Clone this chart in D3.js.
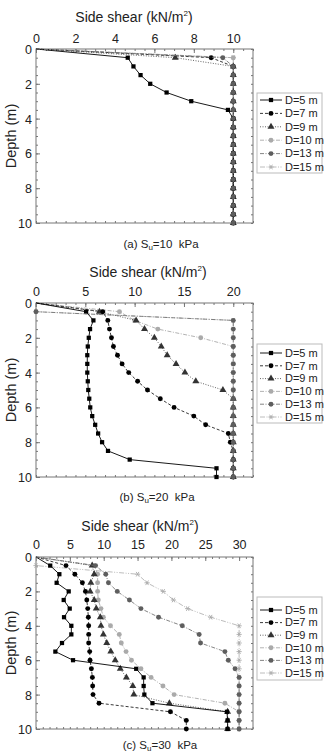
<!DOCTYPE html>
<html>
<head>
<meta charset="utf-8">
<script src="https://cdn.jsdelivr.net/npm/d3@7"></script>
<style>
body { margin: 0; background: #fff; }
svg text { font-family: Arial, "Liberation Sans", sans-serif; fill: #222; }
</style>
</head>
<body>
<div id="chart-area"></div>
<script>
/*
*    side shear vs depth, three panels
*/

var depths = [0, 0.5, 1, 1.5, 2, 2.5, 3, 3.5, 4, 4.5, 5, 5.5, 6, 6.5, 7, 7.5, 8, 8.5, 9, 9.5, 10];
var seriesNames = ["D=5 m", "D=7 m", "D=9 m", "D=10 m", "D=13 m", "D=15 m"];
var captions = ["(a)", "(b)", "(c)"];
var suValues = ["=10  kPa", "=20  kPa", "=30  kPa"];

var xTicksA = [0, 2, 4, 6, 8, 10];
var xTicksB = [0, 5, 10, 15, 20];
var xTicksC = [0, 5, 10, 15, 20, 25, 30];
var yTicks = [0, 2, 4, 6, 8, 10];

// Su = 10 kPa
var a_D5  = [0, 4.65, 4.94, 5.30, 5.79, 6.62, 7.87, 9.73, 10, 10, 10, 10, 10, 10, 10, 10, 10, 10, 10, 10, 10];
var a_D7  = [0, 8.88, 10, 10, 10, 10, 10, 10, 10, 10, 10, 10, 10, 10, 10, 10, 10, 10, 10, 10, 10];
var a_D9  = [0, 7.06, 10, 10, 10, 10, 10, 10, 10, 10, 10, 10, 10, 10, 10, 10, 10, 10, 10, 10, 10];
var a_D10 = [0, 10, 10, 10, 10, 10, 10, 10, 10, 10, 10, 10, 10, 10, 10, 10, 10, 10, 10, 10, 10];
var a_D13 = [0, 9.47, 10, 10, 10, 10, 10, 10, 10, 10, 10, 10, 10, 10, 10, 10, 10, 10, 10, 10, 10];
var a_D15 = [0, 10, 10, 10, 10, 10, 10, 10, 10, 10, 10, 10, 10, 10, 10, 10, 10, 10, 10, 10, 10];

// Su = 20 kPa
var b_D5  = [0, 5.08, 5.82, 5.48, 5.35, 5.25, 5.2, 5.2, 5.2, 5.25, 5.3, 5.4, 5.5, 5.7, 6.0, 6.3, 6.7, 7.3, 9.5, 18.3, 18.3];
var b_D7  = [0, 6.77, 7.28, 7.45, 7.65, 7.85, 8.26, 8.73, 9.4, 10.3, 11.3, 12.6, 14.0, 16.0, 17.2, 19.5, 19.7, 20, 20, 20, 20];
var b_D9  = [0, 6.43, 10.15, 11.0, 12.0, 12.7, 13.3, 14.2, 15.1, 16.2, 18.95, 20, 20, 20, 20, 20, 20, 20, 20, 20, 20];
var b_D10 = [0, 8.46, 10.0, 12.35, 16.7, 20, 20, 20, 20, 20, 20, 20, 20, 20, 20, 20, 20, 20, 20, 20, 20];
var b_D13 = [0, 0, 20, 20, 20, 20, 20, 20, 20, 20, 20, 20, 20, 20, 20, 20, 20, 20, 20, 20, 20];
var b_D15 = [0, 0, 20, 20, 20, 20, 20, 20, 20, 20, 20, 20, 20, 20, 20, 20, 20, 20, 20, 20, 20];

// Su = 30 kPa
var c_D5  = [0, 2.1, 3.45, 3.05, 4.83, 4.09, 4.98, 4.14, 5.22, 5.22, 3.84, 2.86, 5.47, 14.8, 15.9, 15.9, 16.0, 17.2, 28.2, 28.3, 28.3];
var c_D7  = [0, 4.43, 5.74, 6.85, 7.3, 7.5, 7.64, 7.73, 7.78, 7.78, 7.78, 7.93, 7.98, 8.18, 8.33, 8.37, 8.42, 9.31, 19.85, 22.2, 22.2];
var c_D9  = [0, 8.3, 8.6, 8.1, 8.0, 8.6, 8.9, 9.5, 9.6, 9.95, 10.45, 11.05, 11.7, 12.45, 13.35, 14.3, 14.45, 19.7, 28.3, 28.3, 28.3];
var c_D10 = [0, 8.6, 9.1, 9.1, 9.1, 9.2, 9.6, 9.95, 11.0, 12.3, 12.6, 13.3, 14.1, 15.5, 17.0, 18.75, 20.4, 27.9, 30, 30, 30];
var c_D13 = [0, 8.8, 10.3, 10.7, 12.0, 13.8, 15.5, 18.1, 21.6, 24.1, 24.3, 27.9, 28.4, 29.4, 30, 30, 30, 30, 30, 30, 30];
var c_D15 = [0, 0, 15.0, 16.4, 18.8, 20.3, 22.4, 25.8, 30, 30, 30, 30, 30, 30, 30, 30, 30, 30, 30, 30, 30];

var styles = [
	{color: "#000", line: "#000", dash: null, marker: "square"},
	{color: "#000", line: "#222", dash: "3,2", marker: "circle"},
	{color: "#333", line: "#555", dash: "1,1.5", marker: "triangle"},
	{color: "#aaa", line: "#aaa", dash: "4,1.5,1,1.5", marker: "circle"},
	{color: "#5e5e5e", line: "#777", dash: "4,1.5,1,1.5", marker: "circle"},
	{color: "#aaa", line: "#b4b4b4", dash: "5,1.5,1,1.5,1,1.5", marker: "asterisk"}
];

// D=13 ends up on top of the shared column of points
var drawOrder = [5, 3, 2, 1, 0, 4];

var panels = [
	{top: 49, bottom: 223, xmax: 11, ticks: xTicksA, minor: 0.5, data: [a_D5, a_D7, a_D9, a_D10, a_D13, a_D15],
	 titleX: 134, titleY: 22, tickY: 43, capX: 161, capY: 248, leg: {top: 93, bottom: 173, first: 100, step: 13.4}},
	{top: 303, bottom: 477, xmax: 22, ticks: xTicksB, minor: 1, data: [b_D5, b_D7, b_D9, b_D10, b_D13, b_D15],
	 titleX: 148, titleY: 277, tickY: 296, capX: 157, capY: 501, leg: {top: 344, bottom: 423, first: 353, step: 12.8}},
	{top: 557, bottom: 729, xmax: 32.05, ticks: xTicksC, minor: 1, data: [c_D5, c_D7, c_D9, c_D10, c_D13, c_D15],
	 titleX: 140, titleY: 531, tickY: 549, capX: 160, capY: 749, leg: {top: 597, bottom: 680, first: 610, step: 12.6}}
];

var left = 36, right = 253;

var svg = d3.select("#chart-area").append("svg").attr("width", 332).attr("height", 753);

function markerPath(type) {
	if (type == "square") return d3.symbol(d3.symbolSquare).size(18)();
	if (type == "triangle") return d3.symbol(d3.symbolTriangle).size(21)();
	if (type == "asterisk") return "M-2.6,0H2.6M-1.4,-2.3L1.4,2.3M-1.4,2.3L1.4,-2.3";
	return d3.symbol(d3.symbolCircle).size(19)();
}

function drawMarker(g, st, tx, ty) {
	var m = g.append("path").attr("d", markerPath(st.marker)).attr("transform", "translate(" + tx + "," + ty + ")");
	if (st.marker == "asterisk") {
		m.attr("fill", "none").attr("stroke", st.color).attr("stroke-width", 0.9);
	} else {
		m.attr("fill", st.color);
	}
}

panels.forEach((p, pi) => {
	var w = right - left, h = p.bottom - p.top;
	var x = d3.scaleLinear().domain([0, p.xmax]).range([0, w]);
	var y = d3.scaleLinear().domain([0, 10]).range([0, h]);
	var g = svg.append("g").attr("transform", "translate(" + left + "," + p.top + ")");

	var minorX = d3.range(0, p.xmax + 0.001, p.minor);
	var minorY = d3.range(0, 10.001, 0.5);

	// axes: majors with labels on top/left, minor ticks on all four sides pointing in
	var topAxis = g.append("g").call(d3.axisTop(x).tickValues(p.ticks).tickSize(-4).tickFormat(d3.format("d")));
	g.append("g").call(d3.axisTop(x).tickValues(minorX).tickSize(-2).tickFormat(""));
	g.append("g").attr("transform", "translate(0," + h + ")").call(d3.axisBottom(x).tickValues(minorX).tickSize(-2).tickFormat(""));
	var leftAxis = g.append("g").call(d3.axisLeft(y).tickValues(yTicks).tickSize(-4));
	g.append("g").call(d3.axisLeft(y).tickValues(minorY).tickSize(-2).tickFormat(""));
	g.append("g").attr("transform", "translate(" + w + ",0)").call(d3.axisRight(y).tickValues(minorY).tickSize(-2).tickFormat(""));

	g.selectAll(".domain").remove();
	g.selectAll(".tick line").attr("stroke", "#777");
	topAxis.selectAll("text").attr("font-size", "12.5px").attr("fill", "#222").attr("y", p.tickY - p.top).attr("dy", 0);
	leftAxis.selectAll("text").attr("font-size", "12.5px").attr("fill", "#222").attr("dy", "0.36em").attr("x", -4);

	g.append("rect").attr("width", w).attr("height", h).attr("fill", "none").attr("stroke", "#777").attr("stroke-width", 1);

	var line = d3.line().x((d) => { return x(d[1]); }).y((d) => { return y(d[0]); });

	drawOrder.forEach((s) => {
		var st = styles[s];
		var pts = depths.map((dd, i) => { return [dd, p.data[s][i]]; });
		g.append("path").datum(pts).attr("d", line).attr("fill", "none")
			.attr("stroke", st.line).attr("stroke-width", 0.9).attr("stroke-dasharray", st.dash);
		pts.forEach((d, i) => {
			if (i == 0) return;
			drawMarker(g, st, x(d[1]), y(d[0]));
		});
	});

	// title
	var title = svg.append("text").attr("x", p.titleX).attr("y", p.titleY).attr("text-anchor", "middle").attr("font-size", "14px");
	title.append("tspan").text("Side shear (kN/m");
	title.append("tspan").text("2").attr("font-size", "8px").attr("dy", -6);
	title.append("tspan").text(")").attr("dy", 6);

	// y label
	svg.append("text").attr("transform", "translate(16," + ((p.top + p.bottom) / 2) + ") rotate(-90)")
		.attr("text-anchor", "middle").attr("font-size", "14.5px").text("Depth (m)");

	// caption
	var cap = svg.append("text").attr("x", p.capX).attr("y", p.capY).attr("text-anchor", "middle")
		.attr("font-size", "11.5px").style("white-space", "pre");
	cap.append("tspan").text(captions[pi] + " S");
	cap.append("tspan").text("u").attr("font-size", "8px").attr("dy", 2);
	cap.append("tspan").text(suValues[pi]).attr("dy", -2);

	// legend
	var lg = svg.append("g");
	lg.append("rect").attr("x", 257).attr("y", p.leg.top).attr("width", 65).attr("height", p.leg.bottom - p.leg.top)
		.attr("fill", "#fff").attr("stroke", "#bbb").attr("stroke-width", 1);
	seriesNames.forEach((name, i) => {
		var st = styles[i];
		var cy = p.leg.first + i * p.leg.step;
		lg.append("line").attr("x1", 260).attr("x2", 282).attr("y1", cy).attr("y2", cy)
			.attr("stroke", st.line).attr("stroke-width", 0.9).attr("stroke-dasharray", st.dash);
		drawMarker(lg, st, 271, cy);
		lg.append("text").attr("x", 285).attr("y", cy + 3.8).attr("font-size", "11px").text(name);
	});
});
</script>
</body>
</html>
